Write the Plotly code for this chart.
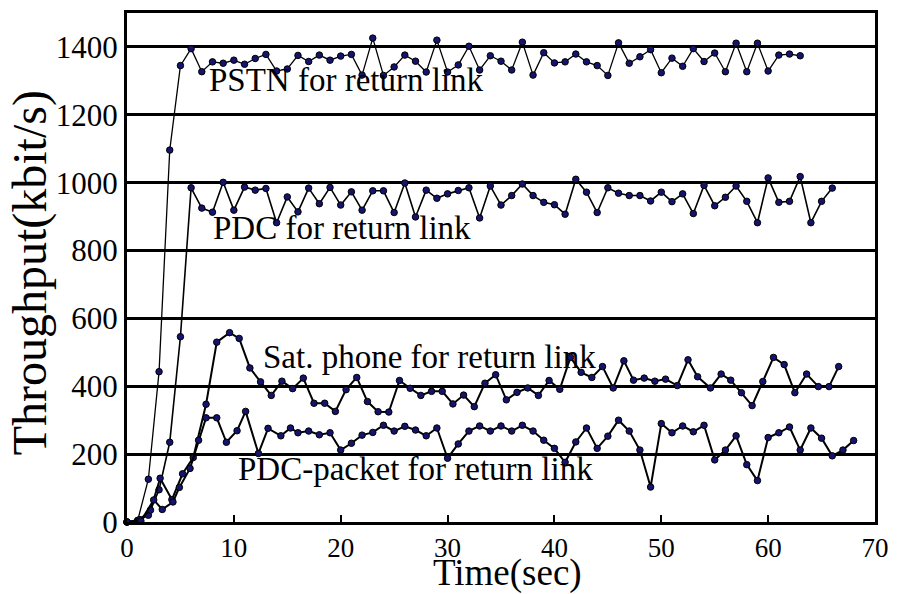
import plotly.graph_objects as go

# ---------------- data ----------------
pstn_x = list(range(0, 64))
pstn_y = [0, 5, 126, 443, 1096, 1345, 1395, 1327, 1356, 1352, 1361, 1349, 1366, 1378,
          1329, 1335, 1375, 1357, 1376, 1361, 1373, 1378, 1317, 1426, 1316, 1341, 1376,
          1358, 1326, 1420, 1326, 1347, 1402, 1332, 1374, 1358, 1332, 1414, 1317, 1383,
          1353, 1356, 1379, 1356, 1345, 1316, 1412, 1352, 1371, 1392, 1324, 1367, 1343,
          1395, 1357, 1382, 1327, 1411, 1327, 1411, 1329, 1376, 1379, 1374]

pdc_x = list(range(0, 67))
pdc_y = [0, 3, 20, 95, 235, 546, 985, 925, 913, 1001, 919, 987, 978, 983, 882, 958,
         914, 984, 938, 986, 934, 973, 919, 976, 976, 912, 999, 899, 978, 954, 967,
         977, 985, 896, 990, 934, 962, 996, 962, 942, 935, 907, 1010, 972, 912, 985,
         969, 962, 962, 946, 972, 944, 967, 909, 992, 932, 957, 990, 945, 882, 1014,
         942, 945, 1018, 882, 945, 984]

sat_x = [0, 1.2, 2.2, 3.1, 4.2, 5.2, 6.2, 7.4, 8.4, 9.6, 10.5, 11.5, 12.5, 13.5, 14.5,
         15.5, 16.5, 17.5, 18.5, 19.5, 20.5, 21.5, 22.5, 23.5, 24.5, 25.5, 26.5, 27.5,
         28.5, 29.5, 30.5, 31.5, 32.5, 33.5, 34.5, 35.5, 36.5, 37.5, 38.5, 39.5, 40.5,
         41.5, 42.5, 43.5, 44.5, 45.5, 46.5, 47.4, 48.4, 49.4, 50.4, 51.5, 52.5, 53.4,
         54.6, 55.6, 56.5, 57.5, 58.5, 59.5, 60.5, 61.5, 62.5, 63.6, 64.7, 65.7, 66.6]
sat_y = [0, 7, 35, 129, 66, 142, 190, 347, 530, 558, 541, 454, 413, 373, 415, 393, 424,
         350, 350, 326, 390, 426, 355, 325, 324, 417, 394, 373, 385, 385, 348, 374, 340,
         409, 434, 360, 382, 395, 373, 417, 391, 485, 441, 426, 458, 395, 475, 418, 424,
         415, 421, 402, 478, 428, 395, 436, 418, 381, 343, 414, 485, 464, 381, 436, 399,
         399, 458]

pkt_x = [0, 1.3, 2.5, 3.3, 4.3, 4.9, 5.9, 6.7, 7.4, 8.4, 9.3, 10.3, 11.1, 12.3, 13.2,
         14.4, 15.3] + list(range(16, 69))
pkt_y = [0, 3, 65, 37, 59, 102, 158, 241, 307, 307, 235, 269, 326, 202, 276, 254, 277,
         263, 268, 257, 263, 212, 232, 256, 264, 285, 268, 282, 271, 254, 277, 188, 230,
         268, 283, 268, 283, 268, 285, 268, 241, 217, 176, 236, 277, 217, 253, 300, 268,
         212, 103, 290, 263, 283, 266, 285, 183, 212, 254, 169, 122, 249, 263, 280, 212,
         277, 247, 195, 212, 240]

labels = ["PSTN for return link", "PDC for return link",
          "Sat. phone for return link", "PDC-packet for return link"]
label_x = [7.5, 7.85, 12.5, 10.2]
label_y = [1303, 867, 487, 156]

x_ticks = [0, 10, 20, 30, 40, 50, 60, 70]
y_ticks = [0, 200, 400, 600, 800, 1000, 1200, 1400]

# ---------------- figure ----------------
FONT = "Liberation Serif"
fig = go.Figure()

series = [(pstn_x, pstn_y, 1.3), (pdc_x, pdc_y, 1.6), (sat_x, sat_y, 2), (pkt_x, pkt_y, 2)]
for xs, ys, lw in series:
    fig.add_trace(go.Scatter(
        x=xs, y=ys, mode="lines+markers",
        line=dict(color="black", width=lw),
        marker=dict(size=6.5, color="#14146e", line=dict(color="black", width=1)),
        cliponaxis=False, showlegend=False, hoverinfo="skip"))

for t, xv, yv in zip(labels, label_x, label_y):
    fig.add_annotation(x=xv, y=yv, text=t, showarrow=False, xanchor="left",
                       yanchor="middle", font=dict(family=FONT, size=33, color="black"))

fig.add_annotation(xref="paper", yref="paper", x=0.509, y=-0.1, text="Time(sec)",
                   showarrow=False, xanchor="center", yanchor="middle",
                   font=dict(family=FONT, size=37, color="black"))
fig.add_annotation(xref="paper", yref="paper", x=-0.13, y=0.49, text="Throughput(kbit/s)",
                   showarrow=False, textangle=-90, xanchor="center", yanchor="middle",
                   font=dict(family=FONT, size=48, color="black"))

fig.update_layout(
    width=899, height=594,
    margin=dict(l=127, r=19, t=10, b=72),
    paper_bgcolor="white", plot_bgcolor="white",
    font=dict(family=FONT, color="black"),
    xaxis=dict(range=[0, 70], tickvals=x_ticks, ticks="inside", ticklen=7, tickwidth=2,
               tickcolor="black", showline=True, linewidth=3, linecolor="black",
               mirror=True, showgrid=False, zeroline=False,
               tickfont=dict(family=FONT, size=27, color="black")),
    yaxis=dict(range=[0, 1500], tickvals=y_ticks, ticks="", showline=True, linewidth=3,
               linecolor="black", mirror=True, showgrid=True, gridcolor="black",
               gridwidth=3, zeroline=False,
               tickfont=dict(family=FONT, size=31, color="black")),
)

fig.write_html("out.html")
